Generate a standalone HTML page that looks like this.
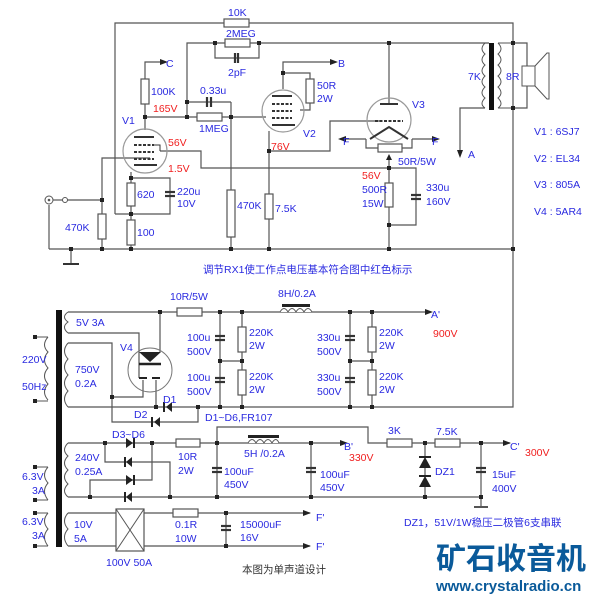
<!DOCTYPE html>
<html><head><meta charset="utf-8"><style>
html,body{margin:0;padding:0;background:#fff;width:603px;height:600px;overflow:hidden}
svg{display:block}
text{font-family:"Liberation Sans","Noto Sans CJK SC",sans-serif;font-size:10.5px;fill:#2a2ae0}
.r{fill:#f02020}
.k{fill:#333}
</style></head><body>
<svg width="603" height="600" viewBox="0 0 603 600" xmlns="http://www.w3.org/2000/svg">
<g stroke="#555" stroke-width="1.2" fill="none">
<polyline points="115,214 115,23 513,23 513,407 198,407"/>
<polyline points="187,117 187,43 489,43"/>
<polyline points="215,43 215,58 259,58 259,43"/>
<line x1="187" y1="102" x2="231" y2="102"/>
<polyline points="231,102 231,249"/>
<line x1="145" y1="117" x2="266" y2="117"/>
<polyline points="145,130 145,62 160,62"/>
<polyline points="131,172 131,249"/>
<polyline points="131,178 170,178 170,214 115,214"/>
<line x1="49" y1="249" x2="513" y2="249"/>
<polyline points="49,205 49,249"/>
<line x1="53" y1="200" x2="63" y2="200"/>
<line x1="67" y1="200" x2="102" y2="200"/>
<polyline points="102,249 102,158 150,158"/>
<polyline points="160,151 201,151 201,168 416,168 416,225 389,225"/>
<polyline points="283,89 283,62 330,62"/>
<polyline points="283,73 310,73 310,110 300,110"/>
<polyline points="269,131 269,249"/>
<polyline points="269,151 330,151 330,121 380,121"/>
<polyline points="389,43 389,104"/>
<polyline points="389,160 389,249"/>
<polyline points="366,139 366,148 412,148 412,139"/>
<line x1="366" y1="139" x2="346" y2="139"/>
<line x1="412" y1="139" x2="432" y2="139"/>
<polyline points="485,108 460,108 460,150"/>
<polyline points="513,43 527,43 527,66"/>
<polyline points="513,108 527,108 527,86"/>
<line x1="71" y1="249" x2="71" y2="263"/>
<circle cx="145" cy="151" r="22" stroke="#999"/>
<circle cx="283" cy="111" r="21" stroke="#999"/>
<circle cx="389" cy="120" r="22" stroke="#999"/>
<polyline points="68,312 425,312"/>
<polyline points="160,312 160,352"/>
<polyline points="68,333 139,333 139,378"/>
<polyline points="68,343 112,343 112,422 198,422 198,407"/>
<polyline points="112,397 143,397 143,380"/>
<polyline points="68,407 198,407"/>
<polyline points="156,380 156,407"/>
<line x1="220" y1="312" x2="220" y2="407"/>
<line x1="242" y1="312" x2="242" y2="407"/>
<line x1="220" y1="361" x2="242" y2="361"/>
<line x1="350" y1="312" x2="350" y2="407"/>
<line x1="372" y1="312" x2="372" y2="407"/>
<line x1="350" y1="361" x2="372" y2="361"/>
<polyline points="68,443 340,443"/>
<polyline points="105,443 105,462 170,462 170,497"/>
<polyline points="152,443 152,480 90,480 90,497"/>
<polyline points="68,497 481,497 481,506"/>
<line x1="217" y1="443" x2="217" y2="497"/>
<line x1="311" y1="443" x2="311" y2="497"/>
<polyline points="217,443 217,427 368,427 368,443 510,443"/>
<line x1="425" y1="443" x2="425" y2="497"/>
<line x1="481" y1="443" x2="481" y2="497"/>
<line x1="474" y1="507" x2="488" y2="507" stroke-width="2"/>
<polyline points="68,513 310,513"/>
<polyline points="68,546 310,546"/>
<line x1="226" y1="513" x2="226" y2="546"/>
</g>
<line x1="63" y1="264" x2="79" y2="264" stroke="#333" stroke-width="2"/>
<circle cx="49" cy="200" r="4" fill="#fff" stroke="#555"/>
<circle cx="49" cy="200" r="1.3" fill="#555"/>
<circle cx="65" cy="200" r="2.5" fill="#fff" stroke="#555"/>
<g fill="#fff" stroke="#555" stroke-width="1.2">
<rect x="224" y="19" width="25" height="8"/>
<rect x="225" y="39" width="25" height="8"/>
<rect x="197" y="113" width="25" height="8"/>
<rect x="141" y="79" width="8" height="25"/>
<rect x="127" y="183" width="8" height="23"/>
<rect x="127" y="220" width="8" height="25"/>
<rect x="98" y="214" width="8" height="25"/>
<rect x="227" y="190" width="8" height="47"/>
<rect x="306" y="79" width="8" height="24"/>
<rect x="265" y="194" width="8" height="25"/>
<rect x="385" y="183" width="8" height="24"/>
<rect x="378" y="144" width="24" height="8"/>
<rect x="177" y="308" width="25" height="8"/>
<rect x="238" y="327" width="8" height="25"/>
<rect x="238" y="370" width="8" height="25"/>
<rect x="368" y="327" width="8" height="25"/>
<rect x="368" y="370" width="8" height="25"/>
<rect x="176" y="439" width="24" height="8"/>
<rect x="387" y="439" width="25" height="8"/>
<rect x="435" y="439" width="25" height="8"/>
<rect x="173" y="509" width="25" height="8"/>
<rect x="116" y="509" width="28" height="42"/>
</g>
<line x1="116" y1="509" x2="144" y2="551" stroke="#555"/><line x1="144" y1="509" x2="116" y2="551" stroke="#555"/>
<g stroke="#333" stroke-width="2.2">
<line x1="235" y1="53" x2="235" y2="63"/><line x1="238" y1="53" x2="238" y2="63"/>
<line x1="207" y1="97" x2="207" y2="107"/><line x1="211" y1="97" x2="211" y2="107"/>
<line x1="165" y1="192" x2="175" y2="192"/><line x1="165" y1="196" x2="175" y2="196"/>
<line x1="411" y1="195" x2="421" y2="195"/><line x1="411" y1="199" x2="421" y2="199"/>
<line x1="215" y1="336" x2="225" y2="336"/><line x1="215" y1="340" x2="225" y2="340"/>
<line x1="215" y1="378" x2="225" y2="378"/><line x1="215" y1="382" x2="225" y2="382"/>
<line x1="345" y1="336" x2="355" y2="336"/><line x1="345" y1="340" x2="355" y2="340"/>
<line x1="345" y1="378" x2="355" y2="378"/><line x1="345" y1="382" x2="355" y2="382"/>
<line x1="212" y1="468" x2="222" y2="468"/><line x1="212" y1="472" x2="222" y2="472"/>
<line x1="306" y1="468" x2="316" y2="468"/><line x1="306" y1="472" x2="316" y2="472"/>
<line x1="476" y1="468" x2="486" y2="468"/><line x1="476" y1="472" x2="486" y2="472"/>
<line x1="221" y1="526" x2="231" y2="526"/><line x1="221" y1="530" x2="231" y2="530"/>
</g>
<g stroke="#333" stroke-width="2">
<line x1="134" y1="137" x2="154" y2="137"/>
<line x1="134" y1="145" x2="154" y2="145" stroke-dasharray="3,1.5"/>
<line x1="134" y1="152" x2="154" y2="152" stroke-dasharray="3,1.5"/>
<line x1="134" y1="159" x2="154" y2="159" stroke-dasharray="3,1.5"/>
<line x1="134" y1="165" x2="157" y2="165"/>
<line x1="272" y1="96" x2="292" y2="96"/>
<line x1="272" y1="104" x2="292" y2="104" stroke-dasharray="3,1.5"/>
<line x1="272" y1="111" x2="292" y2="111" stroke-dasharray="3,1.5"/>
<line x1="272" y1="118" x2="292" y2="118" stroke-dasharray="3,1.5"/>
<line x1="272" y1="125" x2="295" y2="125"/>
<line x1="380" y1="104" x2="398" y2="104"/>
<line x1="375" y1="121" x2="403" y2="121" stroke-dasharray="3,1.5"/>
<polyline points="370,139 389,127 408,139" fill="none"/>
<polyline points="154,145 160,145 160,151" fill="none" stroke-width="1"/>
</g>
<!-- V4 tube -->
<circle cx="150" cy="370" r="22" fill="none" stroke="#777"/>
<polygon points="139,352 161,352 150,362" fill="#222"/>
<line x1="139" y1="364" x2="161" y2="364" stroke="#222" stroke-width="2.5"/>
<line x1="139" y1="378" x2="147" y2="378" stroke="#222" stroke-width="2"/>
<line x1="152" y1="378" x2="160" y2="378" stroke="#222" stroke-width="2"/>
<rect x="489" y="43" width="5" height="67" fill="#111"/>
<path d="M485,43 q-6,6 0,11 q-6,6 0,11 q-6,6 0,11 q-6,6 0,11 q-6,6 0,11 q-6,6 0,10" fill="none" stroke="#555"/>
<path d="M498,43 q6,6 0,11 q6,6 0,11 q6,6 0,11 q6,6 0,11 q6,6 0,11 q6,6 0,10" fill="none" stroke="#555"/>
<line x1="498" y1="43" x2="513" y2="43" stroke="#555"/><line x1="498" y1="108" x2="513" y2="108" stroke="#555"/>
<rect x="522" y="66" width="13" height="20" fill="#fff" stroke="#555"/>
<polygon points="535,66 547,53 549,53 549,99 547,99 535,86" fill="#fff" stroke="#555"/>
<rect x="56" y="310" width="6" height="237" fill="#111"/>
<g fill="none" stroke="#555">
<path d="M48,337 q-7,8 0,15 q-7,8 0,16 q-7,8 0,16 q-7,8 0,16"/>
<path d="M68,312 q-7,5 0,10 q-7,5 0,11"/>
<path d="M68,343 q-7,8 0,16 q-7,8 0,16 q-7,8 0,16 q-7,8 0,16"/>
<path d="M68,443 q-7,7 0,13 q-7,7 0,14 q-7,7 0,14 q-7,7 0,13"/>
<path d="M48,467 q-7,8 0,16 q-7,8 0,17"/>
<path d="M48,513 q-7,8 0,16 q-7,8 0,17"/>
<path d="M68,513 q-7,8 0,16 q-7,8 0,17"/>
<line x1="35" y1="337" x2="48" y2="337"/><line x1="35" y1="401" x2="48" y2="401"/>
<line x1="35" y1="467" x2="48" y2="467"/><line x1="35" y1="500" x2="48" y2="500"/>
<line x1="35" y1="513" x2="48" y2="513"/><line x1="35" y1="546" x2="48" y2="546"/>
</g>
<rect x="282" y="304" width="28" height="3" fill="#222"/>
<path d="M280,312 q4,-7 8,0 q4,-7 8,0 q4,-7 8,0 q4,-7 8,0" fill="#fff" stroke="#555"/>
<rect x="248" y="435" width="31" height="3" fill="#222"/>
<path d="M248,443 q4,-7 8,0 q4,-7 8,0 q4,-7 8,0 q4,-7 7,0" fill="#fff" stroke="#555"/>
<g fill="#222">
<polygon points="172,402 172,412 166,407"/><rect x="163" y="402" width="2" height="10"/>
<polygon points="160,417 160,427 154,422"/><rect x="151" y="417" width="2" height="10"/>
<polygon points="126,438 126,448 133,443"/><rect x="133" y="438" width="2" height="10"/>
<polygon points="132,457 132,467 126,462"/><rect x="124" y="457" width="2" height="10"/>
<polygon points="126,475 126,485 133,480"/><rect x="133" y="475" width="2" height="10"/>
<polygon points="132,492 132,502 126,497"/><rect x="124" y="492" width="2" height="10"/>
<polygon points="419,468 431,468 425,457"/><rect x="419" y="456" width="12" height="2"/>
<polygon points="419,487 431,487 425,476"/><rect x="419" y="475" width="12" height="2"/>
</g>
<g fill="#222">
<polygon points="160,59 168,62 160,65"/>
<polygon points="330,59 338,62 330,65"/>
<polygon points="346,136 338,139 346,142"/>
<polygon points="432,136 440,139 432,142"/>
<polygon points="386,160 389,154 392,160"/>
<polygon points="457,150 460,158 463,150"/>
<polygon points="425,309 433,312 425,315"/>
<polygon points="340,440 348,443 340,446"/>
<polygon points="503,440 511,443 503,446"/>
<polygon points="303,510 311,513 303,516"/>
<polygon points="303,543 311,546 303,549"/>
</g>
<g fill="#222">
<rect x="213" y="41" width="4" height="4"/><rect x="257" y="41" width="4" height="4"/>
<rect x="387" y="41" width="4" height="4"/><rect x="511" y="41" width="4" height="4"/>
<rect x="511" y="106" width="4" height="4"/>
<rect x="185" y="100" width="4" height="4"/><rect x="185" y="115" width="4" height="4"/>
<rect x="143" y="115" width="4" height="4"/><rect x="229" y="115" width="4" height="4"/>
<rect x="129" y="176" width="4" height="4"/><rect x="129" y="212" width="4" height="4"/>
<rect x="100" y="198" width="4" height="4"/>
<rect x="281" y="71" width="4" height="4"/><rect x="267" y="149" width="4" height="4"/>
<rect x="387" y="166" width="4" height="4"/><rect x="387" y="223" width="4" height="4"/>
<rect x="69" y="247" width="4" height="4"/><rect x="100" y="247" width="4" height="4"/>
<rect x="129" y="247" width="4" height="4"/><rect x="229" y="247" width="4" height="4"/>
<rect x="267" y="247" width="4" height="4"/><rect x="387" y="247" width="4" height="4"/>
<rect x="511" y="247" width="4" height="4"/>
<rect x="158" y="310" width="4" height="4"/><rect x="218" y="310" width="4" height="4"/>
<rect x="240" y="310" width="4" height="4"/><rect x="348" y="310" width="4" height="4"/>
<rect x="370" y="310" width="4" height="4"/>
<rect x="218" y="359" width="4" height="4"/><rect x="240" y="359" width="4" height="4"/>
<rect x="348" y="359" width="4" height="4"/><rect x="370" y="359" width="4" height="4"/>
<rect x="110" y="395" width="4" height="4"/>
<rect x="154" y="405" width="4" height="4"/><rect x="196" y="405" width="4" height="4"/>
<rect x="218" y="405" width="4" height="4"/><rect x="240" y="405" width="4" height="4"/>
<rect x="348" y="405" width="4" height="4"/><rect x="370" y="405" width="4" height="4"/>
<rect x="103" y="441" width="4" height="4"/><rect x="150" y="441" width="4" height="4"/>
<rect x="215" y="441" width="4" height="4"/><rect x="309" y="441" width="4" height="4"/>
<rect x="423" y="441" width="4" height="4"/><rect x="479" y="441" width="4" height="4"/>
<rect x="88" y="495" width="4" height="4"/><rect x="168" y="495" width="4" height="4"/>
<rect x="215" y="495" width="4" height="4"/><rect x="309" y="495" width="4" height="4"/>
<rect x="423" y="495" width="4" height="4"/><rect x="479" y="495" width="4" height="4"/>
<rect x="224" y="511" width="4" height="4"/><rect x="224" y="544" width="4" height="4"/>
<rect x="33" y="335" width="4" height="4"/><rect x="33" y="399" width="4" height="4"/>
<rect x="33" y="465" width="4" height="4"/><rect x="33" y="498" width="4" height="4"/>
<rect x="33" y="511" width="4" height="4"/><rect x="33" y="544" width="4" height="4"/>
</g>
<text x="228" y="16">10K</text>
<text x="226" y="37">2MEG</text>
<text x="228" y="76">2pF</text>
<text x="166" y="67">C</text>
<text x="151" y="95">100K</text>
<text x="200" y="94">0.33u</text>
<text class="r" x="153" y="112">165V</text>
<text x="122" y="124">V1</text>
<text x="199" y="132">1MEG</text>
<text class="r" x="168" y="146">56V</text>
<text class="r" x="168" y="172">1.5V</text>
<text x="137" y="198">620</text>
<text x="177" y="195">220u</text>
<text x="177" y="207">10V</text>
<text x="65" y="231">470K</text>
<text x="137" y="236">100</text>
<text x="237" y="209">470K</text>
<text x="275" y="212">7.5K</text>
<text x="338" y="67">B</text>
<text x="317" y="89">50R</text>
<text x="317" y="102">2W</text>
<text x="303" y="137">V2</text>
<text class="r" x="271" y="150">76V</text>
<text x="412" y="108">V3</text>
<text x="343" y="145">F</text>
<text x="432" y="145">F</text>
<text x="398" y="165">50R/5W</text>
<text class="r" x="362" y="179">56V</text>
<text x="362" y="193">500R</text>
<text x="362" y="207">15W</text>
<text x="426" y="191">330u</text>
<text x="426" y="205">160V</text>
<text x="468" y="158">A</text>
<text x="468" y="80">7K</text>
<text x="506" y="80">8R</text>
<text x="534" y="135">V1 : 6SJ7</text>
<text x="534" y="162">V2 : EL34</text>
<text x="534" y="188">V3 : 805A</text>
<text x="534" y="215">V4 : 5AR4</text>
<text x="203" y="273">调节RX1使工作点电压基本符合图中红色标示</text>
<text x="170" y="300">10R/5W</text>
<text x="278" y="297">8H/0.2A</text>
<text x="431" y="318">A'</text>
<text class="r" x="433" y="337">900V</text>
<text x="76" y="326">5V 3A</text>
<text x="120" y="351">V4</text>
<text x="22" y="363">220V</text>
<text x="22" y="390">50Hz</text>
<text x="75" y="373">750V</text>
<text x="75" y="387">0.2A</text>
<text x="187" y="341">100u</text><text x="187" y="355">500V</text>
<text x="187" y="381">100u</text><text x="187" y="395">500V</text>
<text x="249" y="336">220K</text><text x="249" y="349">2W</text>
<text x="249" y="380">220K</text><text x="249" y="393">2W</text>
<text x="317" y="341">330u</text><text x="317" y="355">500V</text>
<text x="317" y="381">330u</text><text x="317" y="395">500V</text>
<text x="379" y="336">220K</text><text x="379" y="349">2W</text>
<text x="379" y="380">220K</text><text x="379" y="393">2W</text>
<text x="163" y="403">D1</text>
<text x="134" y="418">D2</text>
<text x="205" y="421">D1~D6,FR107</text>
<text x="112" y="438">D3~D6</text>
<text x="75" y="461">240V</text>
<text x="75" y="475">0.25A</text>
<text x="178" y="460">10R</text>
<text x="178" y="474">2W</text>
<text x="244" y="457">5H /0.2A</text>
<text x="344" y="450">B'</text>
<text class="r" x="349" y="461">330V</text>
<text x="224" y="475">100uF</text><text x="224" y="488">450V</text>
<text x="320" y="478">100uF</text><text x="320" y="491">450V</text>
<text x="388" y="434">3K</text>
<text x="436" y="435">7.5K</text>
<text x="435" y="475">DZ1</text>
<text x="510" y="450">C'</text>
<text class="r" x="525" y="456">300V</text>
<text x="492" y="478">15uF</text><text x="492" y="492">400V</text>
<text x="22" y="480">6.3V</text><text x="32" y="494">3A</text>
<text x="22" y="525">6.3V</text><text x="32" y="539">3A</text>
<text x="74" y="528">10V</text><text x="74" y="542">5A</text>
<text x="175" y="528">0.1R</text><text x="175" y="542">10W</text>
<text x="240" y="528">15000uF</text><text x="240" y="541">16V</text>
<text x="316" y="521">F'</text><text x="316" y="550">F'</text>
<text x="106" y="566">100V 50A</text>
<text class="k" x="242" y="573">本图为单声道设计</text>
<text x="404" y="526">DZ1，51V/1W稳压二极管6支串联</text>
<text x="436" y="569" style="font-size:30px;font-weight:bold;fill:#0a5a9a">矿石收音机</text>
<text x="436" y="591" style="font-size:15px;font-weight:bold;fill:#0a5a9a">www.crystalradio.cn</text>
</svg>
</body></html>
